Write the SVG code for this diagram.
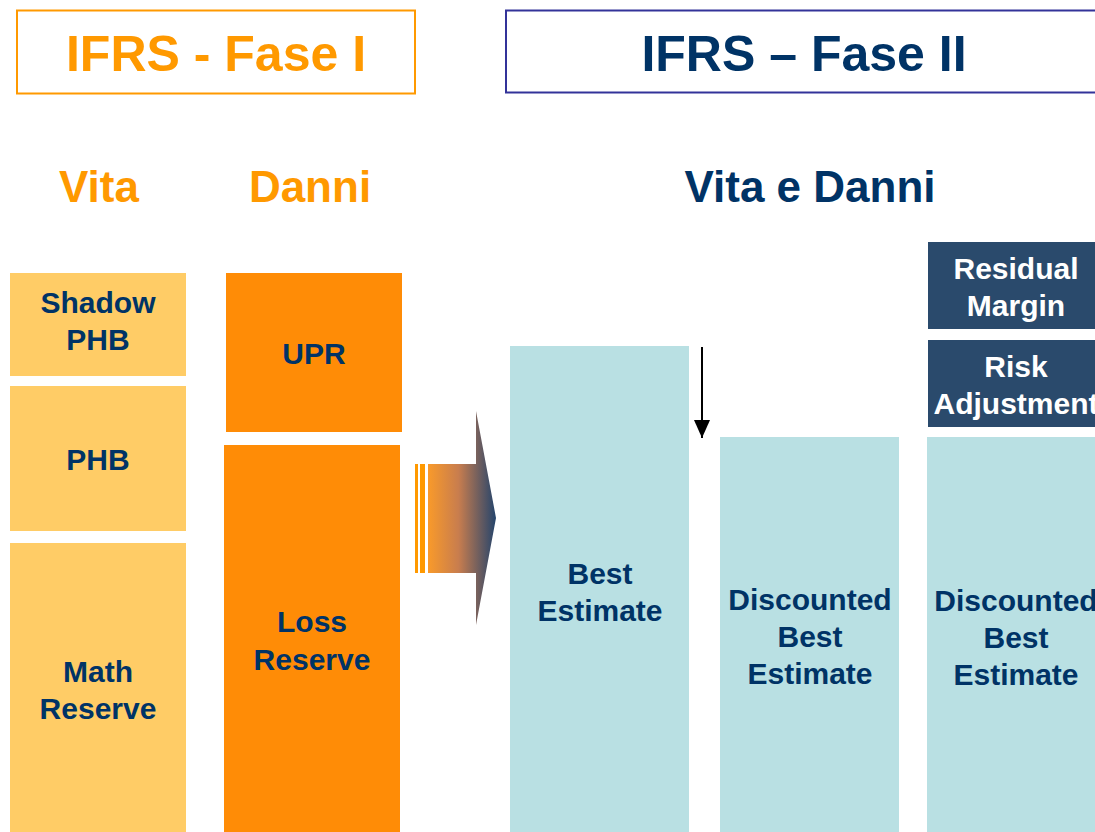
<svg xmlns="http://www.w3.org/2000/svg" width="1095" height="832" viewBox="0 0 1095 832">
  <style>
    text { font-family: "Liberation Sans", Arial, sans-serif; font-weight: bold; text-anchor: middle; }
    .title { font-size: 50px; }
    .head { font-size: 44px; }
    .lbl { font-size: 30px; fill: #003366; }
    .wlbl { font-size: 30px; fill: #ffffff; }
    .vita { fill: #FFCC66; }
    .danni { fill: #FF8C06; }
    .be { fill: #B9E0E3; }
    .dark { fill: #2A4A6C; }
  </style>
  <defs>
    <linearGradient id="flow" x1="0" y1="0" x2="1" y2="0">
      <stop offset="0" stop-color="#F99A2A"/>
      <stop offset="0.45" stop-color="#C87D4E"/>
      <stop offset="1" stop-color="#24446C"/>
    </linearGradient>
    <marker id="tip" markerWidth="16" markerHeight="18" refX="18" refY="8" orient="auto" markerUnits="userSpaceOnUse">
      <path d="M0,0 L18,8 L0,16 Z" fill="#000"/>
    </marker>
  </defs>
  <rect width="1095" height="832" fill="#ffffff"/>

  <!-- phase headers -->
  <g id="fase1">
    <rect x="17" y="10.5" width="398" height="83" fill="none" stroke="#FF9900" stroke-width="2"/>
    <text class="title" x="216" y="71" fill="#FF9900">IFRS - Fase I</text>
  </g>
  <g id="fase2">
    <rect x="506" y="10.5" width="600" height="82" fill="none" stroke="#333399" stroke-width="2"/>
    <text class="title" x="804" y="71" fill="#003366">IFRS – Fase II</text>
  </g>

  <!-- column headings -->
  <text class="head" x="99" y="202" fill="#FF9900">Vita</text>
  <text class="head" x="310" y="202" fill="#FF9900">Danni</text>
  <text class="head" x="810" y="202" fill="#003366">Vita e Danni</text>

  <!-- Vita reserves -->
  <g id="shadow-phb">
    <rect class="vita" x="10" y="273" width="176" height="103"/>
    <text class="lbl" x="98" y="313">Shadow</text>
    <text class="lbl" x="98" y="350">PHB</text>
  </g>
  <g id="phb">
    <rect class="vita" x="10" y="386" width="176" height="145"/>
    <text class="lbl" x="98" y="470">PHB</text>
  </g>
  <g id="math-reserve">
    <rect class="vita" x="10" y="543" width="176" height="289"/>
    <text class="lbl" x="98" y="682">Math</text>
    <text class="lbl" x="98" y="719">Reserve</text>
  </g>

  <!-- Danni reserves -->
  <g id="upr">
    <rect class="danni" x="226" y="273" width="176" height="159"/>
    <text class="lbl" x="314" y="364">UPR</text>
  </g>
  <g id="loss-reserve">
    <rect class="danni" x="224" y="445" width="176" height="387"/>
    <text class="lbl" x="312" y="632">Loss</text>
    <text class="lbl" x="312" y="670">Reserve</text>
  </g>

  <!-- Fase II measures -->
  <g id="best-estimate">
    <rect class="be" x="510" y="346" width="179" height="486"/>
    <text class="lbl" x="600" y="584">Best</text>
    <text class="lbl" x="600" y="621">Estimate</text>
  </g>
  <g id="discounted-be">
    <rect class="be" x="720" y="437" width="179" height="395"/>
    <text class="lbl" x="810" y="610">Discounted</text>
    <text class="lbl" x="810" y="647">Best</text>
    <text class="lbl" x="810" y="684">Estimate</text>
  </g>
  <g id="discounted-be-2">
    <rect class="be" x="927" y="437" width="170" height="395"/>
    <text class="lbl" x="1016" y="611">Discounted</text>
    <text class="lbl" x="1016" y="648">Best</text>
    <text class="lbl" x="1016" y="685">Estimate</text>
  </g>
  <g id="risk-adjustment">
    <rect class="dark" x="928" y="340" width="170" height="87"/>
    <text class="wlbl" x="1016" y="377">Risk</text>
    <text class="wlbl" x="1016" y="414">Adjustment</text>
  </g>
  <g id="residual-margin">
    <rect class="dark" x="928" y="242" width="170" height="87"/>
    <text class="wlbl" x="1016" y="279">Residual</text>
    <text class="wlbl" x="1016" y="316">Margin</text>
  </g>

  <!-- connectors -->
  <g id="connectors">
    <g id="transition-arrow">
      <rect x="415" y="464" width="3" height="109" fill="#FF9900"/>
      <rect x="420" y="464" width="5" height="109" fill="#FF9900"/>
      <path d="M428,464 H476 V411 L496,518 L476,625 V573 H428 Z" fill="url(#flow)"/>
    </g>
    <line x1="702" y1="347" x2="702" y2="438" stroke="#000" stroke-width="2" marker-end="url(#tip)"/>
  </g>
</svg>
